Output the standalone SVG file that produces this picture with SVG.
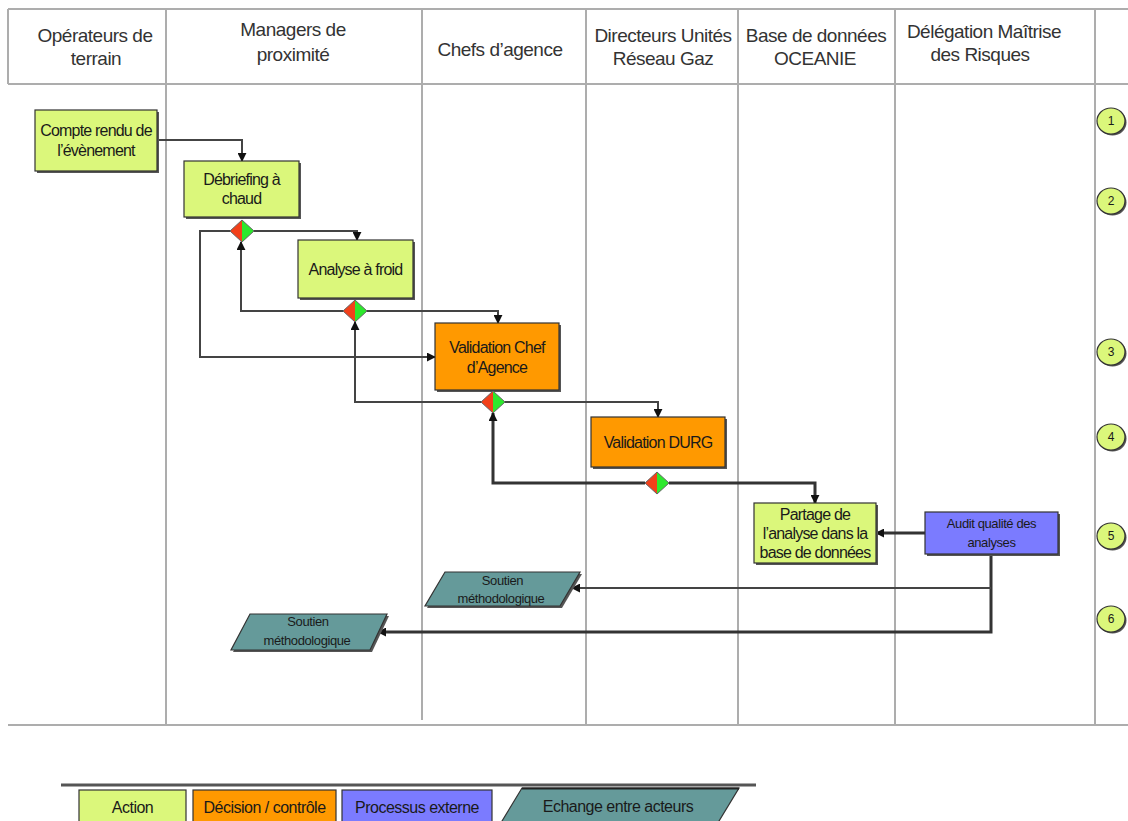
<svg xmlns="http://www.w3.org/2000/svg" width="1128" height="821" viewBox="0 0 1128 821">
<defs>
<style>
text{font-family:"Liberation Sans",Arial,sans-serif;fill:#1a1a1a;}
.hdr{font-size:19px;letter-spacing:-0.5px;text-anchor:middle;fill:#333;}
.nt{font-size:16px;letter-spacing:-0.8px;text-anchor:middle;}
.st{font-size:13px;letter-spacing:-0.4px;text-anchor:middle;}
.num{font-size:12px;text-anchor:middle;}
.lg{font-size:16px;letter-spacing:-0.5px;text-anchor:middle;}
.grid{stroke:#adadad;stroke-width:2;fill:none;}
.act{fill:#dbf77b;stroke:#333;stroke-width:1.2;}
.dec{fill:#ff9900;stroke:#333;stroke-width:1.2;}
.ext{fill:#7b7bff;stroke:#333;stroke-width:1.2;}
.exc{fill:#659a9a;stroke:#333;stroke-width:1.2;}
.sh{fill:#555;}
.con{stroke:#444;stroke-width:2;fill:none;}
.conb{stroke:#333;stroke-width:3;fill:none;}
.red{fill:#f2401a;}
.grn{fill:#2de82d;}
.dia{fill:none;stroke:#666;stroke-width:1;}
</style>
<marker id="ah" viewBox="0 0 10 10" refX="9" refY="5" markerWidth="9" markerHeight="9" markerUnits="userSpaceOnUse" orient="auto">
<path d="M0,0 L10,5 L0,10 z" fill="#111"/>
</marker>
</defs>

<g id="table">
<line class="grid" x1="8" y1="9" x2="1128" y2="9"/>
<line class="grid" x1="8" y1="84" x2="1128" y2="84"/>
<line class="grid" x1="8" y1="9" x2="8" y2="84"/>
<line class="grid" x1="8" y1="725" x2="1128" y2="725"/>
<line class="grid" x1="166" y1="9" x2="166" y2="725"/>
<line class="grid" x1="422" y1="9" x2="422" y2="720"/>
<line class="grid" x1="586" y1="9" x2="586" y2="725"/>
<line class="grid" x1="738" y1="9" x2="738" y2="725"/>
<line class="grid" x1="895" y1="9" x2="895" y2="725"/>
<line class="grid" x1="1095" y1="9" x2="1095" y2="725"/>
<text class="hdr" x="95" y="42">Opérateurs de</text>
<text class="hdr" x="96" y="65">terrain</text>
<text class="hdr" x="293" y="36">Managers de</text>
<text class="hdr" x="293" y="61">proximité</text>
<text class="hdr" x="500" y="56">Chefs d’agence</text>
<text class="hdr" x="663" y="42">Directeurs Unités</text>
<text class="hdr" x="663" y="65">Réseau Gaz</text>
<text class="hdr" x="816" y="42">Base de données</text>
<text class="hdr" x="815" y="65">OCEANIE</text>
<text class="hdr" x="984" y="38">Délégation Maîtrise</text>
<text class="hdr" x="980" y="61">des Risques</text>
</g>

<g id="connectors">
<polyline class="con" points="157,140 242,140 242,161" marker-end="url(#ah)"/>
<polyline class="con" points="230,231 200,231 200,357 435,357" marker-end="url(#ah)"/>
<polyline class="con" points="254,231 357,231 357,240" marker-end="url(#ah)"/>
<polyline class="con" points="343,311 241,311 241,242" marker-end="url(#ah)"/>
<polyline class="con" points="367,311 498,311 498,323" marker-end="url(#ah)"/>
<polyline class="con" points="481,402 355,402 355,322" marker-end="url(#ah)"/>
<polyline class="con" points="505,402 658,402 658,417" marker-end="url(#ah)"/>
<polyline class="conb" points="645,483 493,483 493,413" marker-end="url(#ah)"/>
<polyline class="conb" points="669,483 815,483 815,503" marker-end="url(#ah)"/>
<polyline class="conb" points="925,533 876,533" marker-end="url(#ah)"/>
<polyline class="conb" points="991,554 991,632 378,632" marker-end="url(#ah)"/>
<polyline class="con" points="991,588 572,588" marker-end="url(#ah)"/>
</g>

<g id="n-compte">
<rect class="sh" x="37" y="112" width="122" height="61"/>
<rect class="act" x="35" y="110" width="122" height="61"/>
<text class="nt" x="96" y="136">Compte rendu de</text>
<text class="nt" x="96" y="155.5">l’évènement</text>
</g>

<g id="n-debriefing">
<rect class="sh" x="186" y="163" width="115" height="56"/>
<rect class="act" x="184" y="161" width="115" height="56"/>
<text class="nt" x="241.5" y="184.5">Débriefing à</text>
<text class="nt" x="241.5" y="203.5">chaud</text>
</g>

<g id="d1">
<polygon class="red" points="242,220 230,231 242,242"/>
<polygon class="grn" points="242,220 254,231 242,242"/>
<polygon class="dia" points="242,220 254,231 242,242 230,231"/>
</g>

<g id="n-analyse">
<rect class="sh" x="300" y="242" width="115" height="58"/>
<rect class="act" x="298" y="240" width="115" height="58"/>
<text class="nt" x="355.5" y="274.5">Analyse à froid</text>
</g>

<g id="d2">
<polygon class="red" points="355,300 343,311 355,322"/>
<polygon class="grn" points="355,300 367,311 355,322"/>
<polygon class="dia" points="355,300 367,311 355,322 343,311"/>
</g>

<g id="n-valchef">
<rect class="sh" x="437" y="325" width="124" height="67"/>
<rect class="dec" x="435" y="323" width="124" height="67"/>
<text class="nt" x="497" y="353">Validation Chef</text>
<text class="nt" x="497" y="372.5">d’Agence</text>
</g>

<g id="d3">
<polygon class="red" points="493,391 481,402 493,413"/>
<polygon class="grn" points="493,391 505,402 493,413"/>
<polygon class="dia" points="493,391 505,402 493,413 481,402"/>
</g>

<g id="n-durg">
<rect class="sh" x="593" y="419" width="134" height="50"/>
<rect class="dec" x="591" y="417" width="134" height="50"/>
<text class="nt" x="658" y="447.5">Validation DURG</text>
</g>

<g id="d4">
<polygon class="red" points="657,472 645,483 657,494"/>
<polygon class="grn" points="657,472 669,483 657,494"/>
<polygon class="dia" points="657,472 669,483 657,494 645,483"/>
</g>

<g id="n-partage">
<rect class="sh" x="756" y="505" width="122" height="60"/>
<rect class="act" x="754" y="503" width="122" height="60"/>
<text class="nt" x="815" y="519.5">Partage de</text>
<text class="nt" x="815" y="538.5">l’analyse dans la</text>
<text class="nt" x="815" y="557.5">base de données</text>
</g>

<g id="n-audit">
<rect class="sh" x="927" y="514" width="133" height="42"/>
<rect class="ext" x="925" y="512" width="133" height="42"/>
<text class="st" x="991.5" y="527.5">Audit qualité des</text>
<text class="st" x="991.5" y="546.5">analyses</text>
</g>

<g id="n-soutien1">
<polygon class="sh" points="447,574 582,574 562,608 427,608"/>
<polygon class="exc" points="445,572 580,572 560,606 425,606"/>
<text class="st" x="502.5" y="585">Soutien</text>
<text class="st" x="501" y="602.5">méthodologique</text>
</g>

<g id="n-soutien2">
<polygon class="sh" points="252,616 389,616 372,652 233,652"/>
<polygon class="exc" points="250,614 387,614 370,650 231,650"/>
<text class="st" x="308" y="626">Soutien</text>
<text class="st" x="307" y="644.5">méthodologique</text>
</g>

<g id="steps">
<g id="s1"><ellipse class="sh" cx="1112.5" cy="122.5" rx="14" ry="13"/><ellipse class="act" cx="1111" cy="121" rx="14" ry="13"/><text class="num" x="1111" y="125">1</text></g>
<g id="s2"><ellipse class="sh" cx="1112.5" cy="202.5" rx="14" ry="13"/><ellipse class="act" cx="1111" cy="201" rx="14" ry="13"/><text class="num" x="1111" y="205">2</text></g>
<g id="s3"><ellipse class="sh" cx="1112.5" cy="353.5" rx="14" ry="13"/><ellipse class="act" cx="1111" cy="352" rx="14" ry="13"/><text class="num" x="1111" y="356">3</text></g>
<g id="s4"><ellipse class="sh" cx="1112.5" cy="438.5" rx="14" ry="13"/><ellipse class="act" cx="1111" cy="437" rx="14" ry="13"/><text class="num" x="1111" y="441">4</text></g>
<g id="s5"><ellipse class="sh" cx="1112.5" cy="537.5" rx="14" ry="13"/><ellipse class="act" cx="1111" cy="536" rx="14" ry="13"/><text class="num" x="1111" y="540">5</text></g>
<g id="s6"><ellipse class="sh" cx="1112.5" cy="620.5" rx="14" ry="13"/><ellipse class="act" cx="1111" cy="619" rx="14" ry="13"/><text class="num" x="1111" y="623">6</text></g>
</g>

<g id="legend">
<line x1="61" y1="785" x2="756" y2="785" stroke="#555" stroke-width="3"/>
<rect class="act" x="79" y="790" width="107" height="36"/>
<text class="lg" x="132.5" y="812.5">Action</text>
<rect class="dec" x="193" y="790" width="143" height="36"/>
<text class="lg" x="264.5" y="812.5">Décision / contrôle</text>
<rect class="ext" x="342" y="790" width="150" height="36"/>
<text class="lg" x="417" y="812.5">Processus externe</text>
<polygon class="exc" points="522,788 739,788 716,826 499,826"/>
<line x1="522" y1="788.5" x2="739" y2="788.5" stroke="#222" stroke-width="2"/>
<text class="lg" x="618" y="811.5">Echange entre acteurs</text>
</g>
</svg>
